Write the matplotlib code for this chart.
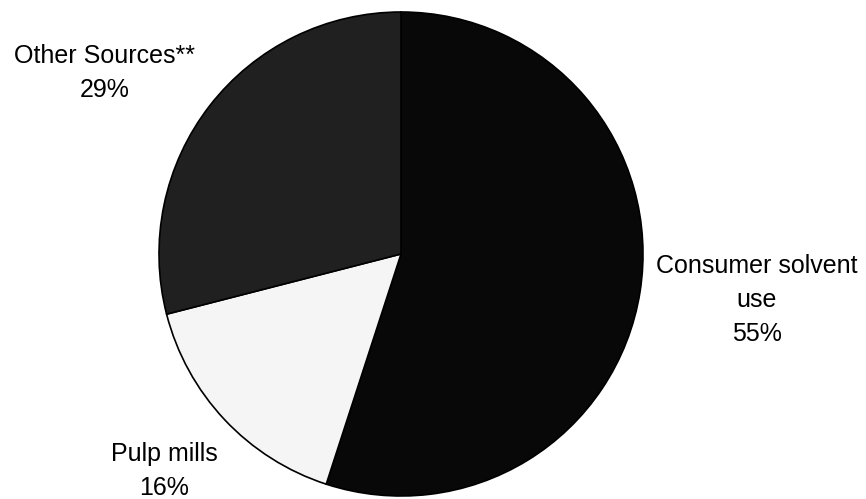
import matplotlib.pyplot as plt

labels = ['Consumer solvent\nuse\n55%', 'Pulp mills\n16%', 'Other Sources**\n29%']
shares = [55, 16, 29]
colors = ['#080808', '#f5f5f5', '#202020']
# label centres in pixel coords (x, y from top)
label_pos = [(757, 300), (164, 471), (105, 73)]

plt.rcParams['font.family'] = ['Liberation Sans', 'DejaVu Sans']

fig = plt.figure(figsize=(8.66, 4.99), dpi=100)
ax = fig.add_axes([0, 0, 1, 1])

ax.pie(shares, colors=colors, startangle=90, counterclock=False,
       center=(401, 499 - 254), radius=242, frame=True,
       wedgeprops=dict(edgecolor='black', linewidth=1.2))
ax.set_xlim(0, 866)
ax.set_ylim(0, 499)
ax.axis('off')

for lab, (x, y) in zip(labels, label_pos):
    ax.text(x, 499 - y, lab, ha='center', va='center', fontsize=18,
            linespacing=1.55, color='black')

fig.savefig('out.png', dpi=100)
